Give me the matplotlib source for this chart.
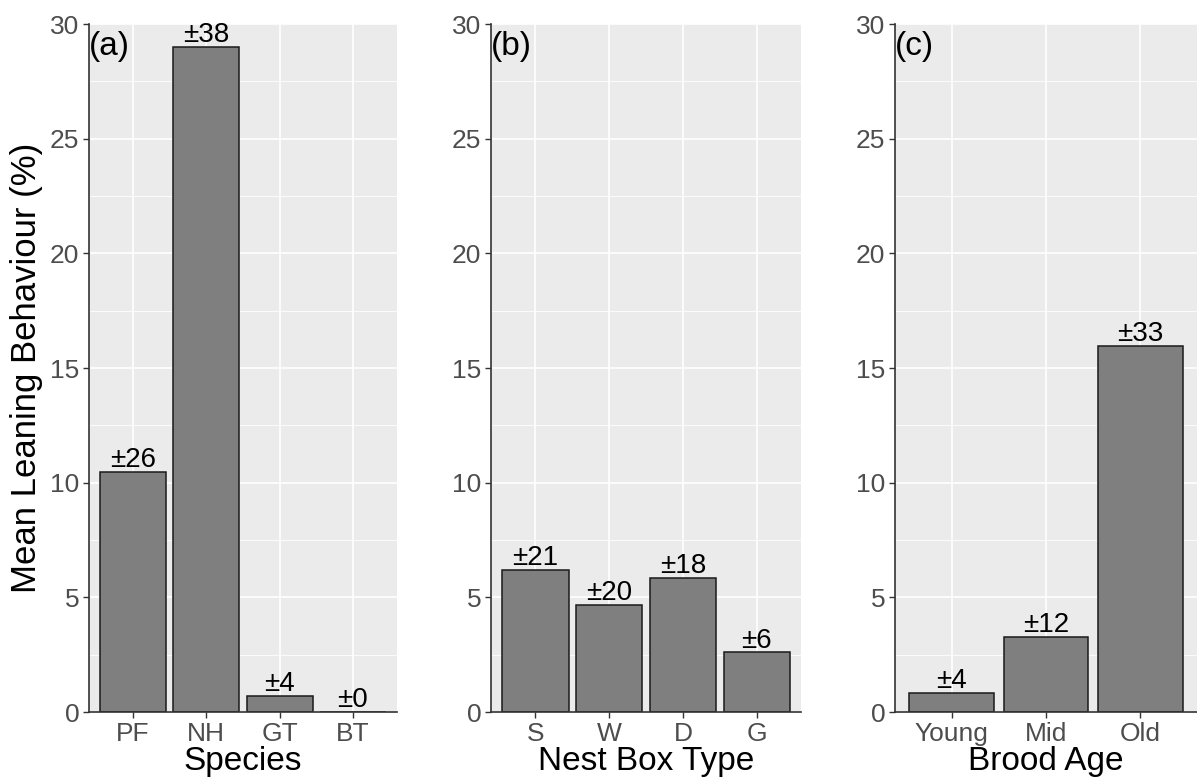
import numpy as np
import matplotlib.pyplot as plt

plt.rcParams['font.family'] = ['Liberation Sans', 'DejaVu Sans']

# panel data
species = ['PF', 'NH', 'GT', 'BT']
species_mean = [10.45, 29.0, 0.7, 0.0]
species_sd = ['±26', '±38', '±4', '±0']

boxes = ['S', 'W', 'D', 'G']
boxes_mean = [6.2, 4.68, 5.85, 2.6]
boxes_sd = ['±21', '±20', '±18', '±6']

ages = ['Young', 'Mid', 'Old']
ages_mean = [0.84, 3.28, 15.95]
ages_sd = ['±4', '±12', '±33']

panels = [
	('(a)', 'Species', species, species_mean, species_sd),
	('(b)', 'Nest Box Type', boxes, boxes_mean, boxes_sd),
	('(c)', 'Brood Age', ages, ages_mean, ages_sd),
]

fig = plt.figure(figsize=(11.97, 7.82), dpi=100)
# axes boxes in pixels: left, right
pix = [(89, 397), (491, 801), (895, 1197)]
top, bottom = 24, 712
W, H = 1197, 782

for (tag, xlab, cats, vals, sds), (l, r) in zip(panels, pix):
	ax = fig.add_axes([l / W, 1 - bottom / H, (r - l) / W, (bottom - top) / H])
	ax.set_facecolor('#EBEBEB')
	x = np.arange(1, len(cats) + 1)
	# grid
	for yv in np.arange(2.5, 30, 5):
		ax.axhline(yv, color='white', lw=0.6, zorder=0)
	for yv in np.arange(0, 31, 5):
		ax.axhline(yv, color='white', lw=1.2, zorder=0)
	for xv in x:
		ax.axvline(xv, color='white', lw=1.2, zorder=0)
	ax.bar(x, vals, width=0.9, color='#7F7F7F', edgecolor='#1a1a1a', lw=1.1, zorder=2)
	for xi, v, s in zip(x, vals, sds):
		ax.text(xi, v - 0.05, s, ha='center', va='bottom', fontsize=20, color='black', zorder=3)
	ax.text(0.4, 29.0, tag, ha='left', va='center', fontsize=24, color='black', zorder=3)
	ax.set_xlim(0.4, len(cats) + 0.6)
	ax.set_ylim(0, 30)
	ax.set_yticks(np.arange(0, 31, 5))
	ax.set_xticks(x)
	ax.set_xticklabels(cats)
	ax.tick_params(axis='both', labelsize=19, labelcolor='#4D4D4D', color='#333333',
				length=4, width=1, pad=3)
	for side in ['top', 'right']:
		ax.spines[side].set_visible(False)
	for side in ['left', 'bottom']:
		ax.spines[side].set_color('#333333')
		ax.spines[side].set_linewidth(1.2)
		ax.spines[side].set_zorder(4)
	ax.set_xlabel(xlab, fontsize=24, labelpad=0)
	if tag == '(a)':
		ax.set_ylabel('Mean Leaning Behaviour (%)', fontsize=25, labelpad=5)

plt.savefig('out.png', dpi=100)
